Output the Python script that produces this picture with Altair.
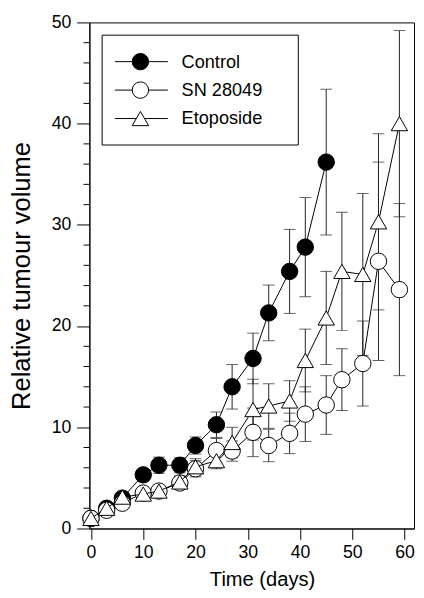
import altair as alt
import pandas as pd

# ---------------- data ----------------
days = [0, 3, 6, 10, 13, 17, 20, 24, 27, 31, 34, 38, 41, 45, 48, 52, 55, 59]

control_days = [0, 3, 6, 10, 13, 17, 20, 24, 27, 31, 34, 38, 41, 45]
control_mean = [1.0, 2.0, 3.0, 5.3, 6.25, 6.25, 8.2, 10.25, 14.0, 16.8, 21.3, 25.4, 27.8, 36.2]
control_err = [0.2, 0.3, 0.4, 0.5, 0.8, 0.75, 0.85, 1.25, 2.2, 2.5, 2.75, 4.15, 4.9, 7.2]

sn_mean = [1.0, 1.8, 2.5, 3.5, 3.7, 4.5, 5.9, 7.7, 7.65, 9.5, 8.2, 9.4, 11.3, 12.2, 14.7, 16.3, 26.4, 23.6]
sn_err = [0.2, 0.3, 0.4, 0.5, 0.5, 0.6, 0.8, 1.2, 1.0, 2.4, 1.6, 2.0, 2.7, 2.9, 3.05, 4.2, 9.8, 8.5]

eto_mean = [1.0, 2.0, 3.1, 3.4, 3.7, 4.6, 6.1, 6.7, 8.5, 11.75, 12.1, 12.6, 16.6, 20.8, 25.4, 25.1, 30.3, 40.0]
eto_err = [0.2, 0.3, 0.4, 0.5, 0.5, 0.6, 0.8, 0.8, 1.5, 3.0, 2.2, 2.0, 3.1, 4.6, 5.85, 8.0, 8.7, 9.2]

series_names = ["Control", "SN 28049", "Etoposide"]
series_shapes = ["circle", "circle", "triangle-up"]
series_fills = ["black", "white", "white"]

x_ticks = [0, 10, 20, 30, 40, 50, 60]
y_ticks = [0, 10, 20, 30, 40, 50]
y_minor = [v for v in range(2, 50, 2) if v % 10 != 0]

# ---------------- tables ----------------
rows = []
for name, dd, mm, ee in [
    ("Control", control_days, control_mean, control_err),
    ("SN 28049", days, sn_mean, sn_err),
    ("Etoposide", days, eto_mean, eto_err),
]:
    for d, m, e in zip(dd, mm, ee):
        rows.append({"series": name, "day": d, "mean": m, "lo": m - e, "hi": m + e})
df = pd.DataFrame(rows)
minor_df = pd.DataFrame({"v": y_minor})

FONT = "Liberation Sans"

xscale = alt.Scale(domain=[-0.3, 61.8], nice=False, zero=False)
yscale = alt.Scale(domain=[0, 50], nice=False, zero=False)
xaxis = alt.Axis(values=x_ticks, title="Time (days)", tickSize=11, labelPadding=5,
                 titlePadding=8, titleFontSize=20.5, titleX=176, grid=False, format="d")
yaxis = alt.Axis(values=y_ticks, title="Relative tumour volume", tickSize=13,
                 labelPadding=6, titlePadding=17, titleFontSize=26, grid=False, format="d")


def X(field):
    return alt.X(field, scale=xscale, axis=xaxis)


def Y(field):
    return alt.Y(field, scale=yscale, axis=yaxis)


shape_scale = alt.Scale(domain=series_names, range=series_shapes)
fill_scale = alt.Scale(domain=series_names, range=series_fills)

base = alt.Chart(df)

bars = base.mark_rule(color="#222", strokeWidth=1).encode(
    x=X("day:Q"), y=Y("lo:Q"), y2="hi:Q")
caps_hi = base.mark_tick(orient="horizontal", size=12, thickness=1, color="#222").encode(
    x=X("day:Q"), y=Y("hi:Q"))
caps_lo = base.mark_tick(orient="horizontal", size=12, thickness=1, color="#222").encode(
    x=X("day:Q"), y=Y("lo:Q"))

minor = alt.Chart(minor_df).mark_rule(color="black", strokeWidth=1).encode(
    y=Y("v:Q"), x=alt.value(-6), x2=alt.value(0))

layers = [minor, bars, caps_hi, caps_lo]
for name in series_names:
    sub = base.transform_filter(alt.datum.series == name)
    layers.append(sub.mark_line(color="black", strokeWidth=1).encode(
        x=X("day:Q"), y=Y("mean:Q")))
    layers.append(sub.mark_point(filled=True, stroke="black", strokeWidth=1, size=280, opacity=1).encode(
        x=X("day:Q"), y=Y("mean:Q"),
        shape=alt.Shape("series:N", scale=shape_scale, legend=None),
        fill=alt.Fill("series:N", scale=fill_scale, legend=None)))

# ---------------- manual legend ----------------
leg_df = pd.DataFrame({"series": series_names})
box = alt.Chart(pd.DataFrame({"a": [0]})).mark_rect(fill="white", stroke="black", strokeWidth=1).encode(
    x=alt.value(13), x2=alt.value(213), y=alt.value(13), y2=alt.value(125))
layers.append(box)
for i, name in enumerate(series_names):
    yy = 40 + 29 * i
    one = alt.Chart(leg_df).transform_filter(alt.datum.series == name)
    layers.append(one.mark_rule(color="black", strokeWidth=1).encode(
        x=alt.value(26), x2=alt.value(80), y=alt.value(yy)))
    layers.append(one.mark_point(filled=True, stroke="black", strokeWidth=1, size=280, opacity=1).encode(
        x=alt.value(52), y=alt.value(yy),
        shape=alt.Shape("series:N", scale=shape_scale, legend=None),
        fill=alt.Fill("series:N", scale=fill_scale, legend=None)))
    layers.append(one.mark_text(align="left", baseline="middle", font=FONT, fontSize=18.5,
                                color="black").encode(
        x=alt.value(94), y=alt.value(yy), text="series:N"))

chart = alt.layer(*layers).properties(
    width=331, height=516,
    autosize=alt.AutoSizeParams(type="none"),
    padding={"left": 83, "top": 9, "right": 2, "bottom": 57},
).configure_view(stroke="black", strokeWidth=1).configure_axis(
    domainColor="black", tickColor="black", labelColor="black", titleColor="black",
    labelFont=FONT, titleFont=FONT, labelFontSize=18,
    titleFontWeight="normal", domainWidth=1, tickWidth=1,
)

chart.save("out.html", embed_options={"renderer": "svg", "actions": False})
